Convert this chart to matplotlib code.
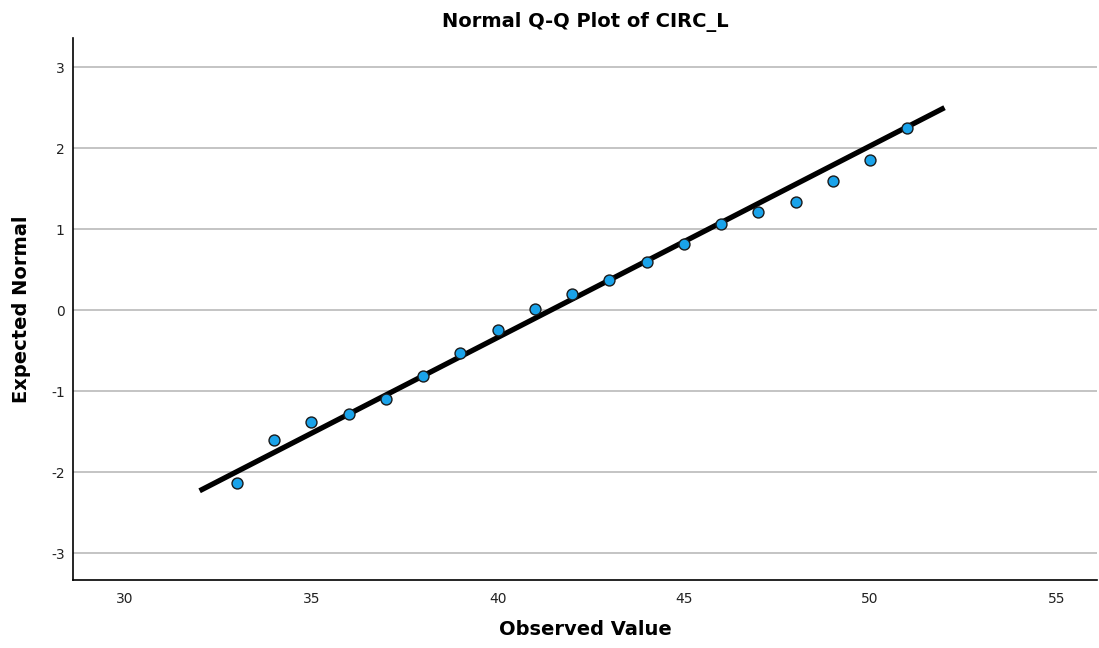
import matplotlib
matplotlib.use("Agg")
import matplotlib.pyplot as plt
import numpy as np

plt.rcParams["axes.unicode_minus"] = False

# Observed values and their expected normal scores
observed = [33, 34, 35, 36, 37, 38, 39, 40, 41, 42, 43, 44, 45, 46, 47, 48, 49, 50, 51]
expected = [-2.13, -1.60, -1.38, -1.28, -1.10, -0.81, -0.53, -0.25, 0.01, 0.20,
            0.37, 0.60, 0.82, 1.06, 1.21, 1.34, 1.59, 1.85, 2.25]

# Reference line (normal fit)
line_x = [32, 52]
fit_mean = 41.43
fit_sd = 4.23

x_ticks = [30, 35, 40, 45, 50, 55]
y_ticks = [-3, -2, -1, 0, 1, 2, 3]

fig = plt.figure(figsize=(10.99, 6.48), dpi=100)
ax = fig.add_axes([0.0664, 0.105, 0.932, 0.8365])

for yt in y_ticks:
    ax.axhline(yt, color="#b4b4b4", lw=1.1, zorder=0)

lx = np.array(line_x, dtype=float)
ax.plot(lx, (lx - fit_mean) / fit_sd, color="black", lw=3.8, solid_capstyle="butt", zorder=2)
ax.scatter(observed, expected, s=62, color="#1aa3ea", edgecolors="#1a1a1a", linewidths=1.0, zorder=3)

ax.set_xlim(28.6, 56.1)
ax.set_ylim(-3.33, 3.36)
ax.set_xticks(x_ticks)
ax.set_yticks(y_ticks)
ax.tick_params(length=0, labelsize=10, colors="#222222")
ax.tick_params(axis="x", pad=9)
ax.tick_params(axis="y", pad=6)

for s in ["top", "right"]:
    ax.spines[s].set_visible(False)
for s in ["left", "bottom"]:
    ax.spines[s].set_linewidth(1.2)

ax.set_title("Normal Q-Q Plot of CIRC_L", fontsize=14, fontweight="bold", pad=8)
ax.set_xlabel("Observed Value", fontsize=14, fontweight="bold", labelpad=10)
ax.set_ylabel("Expected Normal", fontsize=14, fontweight="bold")
ax.yaxis.set_label_coords(-0.041, 0.5)

fig.savefig("out.png", dpi=100)
